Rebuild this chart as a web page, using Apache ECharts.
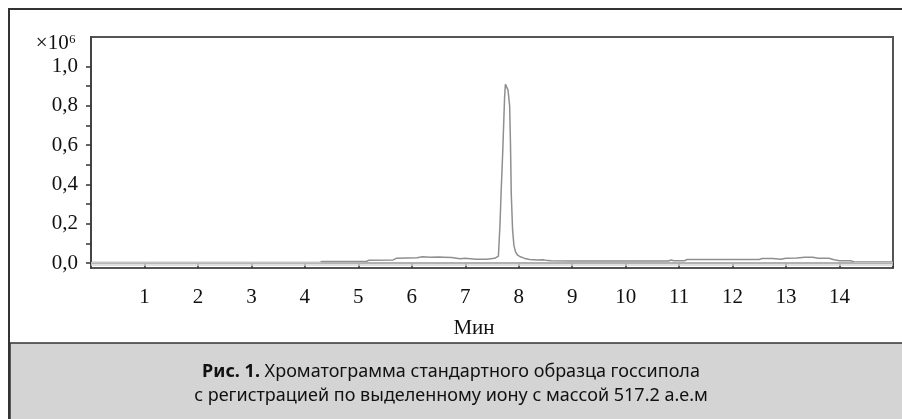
<!DOCTYPE html>
<html>
<head>
<meta charset="utf-8">
<script src="https://cdn.jsdelivr.net/npm/echarts@6/dist/echarts.min.js"></script>
<style>
html,body{margin:0;padding:0;background:#fff;}
#chart{width:902px;height:419px;}
</style>
</head>
<body>
<div id="chart"></div>
<script>
// Retention time (min)
const times = [0, 4.28, 4.32, 5.15, 5.2, 5.65, 5.72, 6.1, 6.2, 6.35, 6.5, 6.6, 6.75, 6.9, 7.0, 7.2, 7.4, 7.55, 7.62, 7.65, 7.67, 7.70, 7.735, 7.75, 7.77, 7.80, 7.83, 7.845, 7.86, 7.885, 7.91, 7.94, 7.98, 8.03, 8.1, 8.2, 8.35, 8.46, 8.5, 8.6, 9.0, 10.0, 10.8, 10.85, 10.9, 11.1, 11.15, 12.5, 12.55, 12.75, 12.9, 13.0, 13.2, 13.35, 13.5, 13.6, 13.8, 13.9, 14.0, 14.2, 14.3, 15.0];
// Intensity (x10^6)
const intensity = [0.003, 0.003, 0.008, 0.008, 0.015, 0.016, 0.025, 0.027, 0.032, 0.030, 0.031, 0.030, 0.028, 0.022, 0.024, 0.020, 0.020, 0.024, 0.035, 0.20, 0.355, 0.56, 0.84, 0.91, 0.915, 0.88, 0.80, 0.615, 0.355, 0.17, 0.09, 0.057, 0.040, 0.032, 0.025, 0.018, 0.016, 0.017, 0.015, 0.012, 0.011, 0.011, 0.011, 0.016, 0.012, 0.012, 0.018, 0.018, 0.023, 0.023, 0.020, 0.025, 0.026, 0.030, 0.030, 0.025, 0.025, 0.017, 0.012, 0.012, 0.005, 0.005];
const yTicks = [0, 0.1, 0.2, 0.3, 0.4, 0.5, 0.6, 0.7, 0.8, 0.9, 1.0];
const yLabels = [0, 0.2, 0.4, 0.6, 0.8, 1.0];
const xTicks = [1, 2, 3, 4, 5, 6, 7, 8, 9, 10, 11, 12, 13, 14, 15];
const xLabels = [1, 2, 3, 4, 5, 6, 7, 8, 9, 10, 11, 12, 13, 14];
const xName = 'Мин';
const yUnit = '×10⁶';
const captionBold = 'Рис. 1.';
const captionLine1 = ' Хроматограмма стандартного образца госсипола';
const captionLine2 = 'с регистрацией по выделенному иону с массой 517.2 а.е.м';

const chart = echarts.init(document.getElementById('chart'), null, {renderer: 'canvas'});
const serif = '"Liberation Serif", "Times New Roman", serif';
const sans = '"Noto Sans", "DejaVu Sans", sans-serif';

const option = {
  animation: false,
  backgroundColor: '#fff',
  grid: {left: 91, right: 9, top: 37, bottom: 151, show: true, borderColor: '#555', borderWidth: 2},
  xAxis: {
    type: 'value', min: 0, max: 15,
    name: xName, nameLocation: 'middle', nameGap: 50,
    nameTextStyle: {fontFamily: serif, fontSize: 21, color: '#111', padding: [0, 36, 0, 0]},
    axisLine: {show: true, lineStyle: {color: '#444', width: 2}},
    axisTick: {show: true, customValues: xTicks, length: 5, lineStyle: {color: '#333', width: 1.5}},
    axisLabel: {customValues: xLabels, margin: 19, fontFamily: serif, fontSize: 21, color: '#111'},
    splitLine: {show: false}
  },
  yAxis: {
    type: 'value', min: -0.025, max: 1.15,
    axisLine: {show: true, lineStyle: {color: '#444', width: 2}},
    axisTick: {show: true, customValues: yTicks, length: 5, lineStyle: {color: '#333', width: 1.5}},
    axisLabel: {customValues: yLabels, margin: 13, fontFamily: serif, fontSize: 21, color: '#111',
      formatter: v => v.toFixed(1).replace('.', ',')},
    splitLine: {show: false}
  },
  series: [{
    type: 'line',
    data: times.map((t, i) => [t, intensity[i]]),
    symbol: 'none',
    lineStyle: {color: '#8f8f8f', width: 1.5},
    markLine: {
      silent: true, symbol: 'none', label: {show: false},
      lineStyle: {type: 'solid', color: '#d6d6d6', width: 1.5},
      data: [{yAxis: -0.004}, {yAxis: -0.015}]
    },
    z: 3
  }],
  graphic: [
    {type: 'rect', z: -10, shape: {x: 9, y: 9, width: 900, height: 420}, style: {fill: 'none', stroke: '#333', lineWidth: 2}},
    {type: 'rect', z: 10, shape: {x: 10, y: 343, width: 900, height: 80}, style: {fill: '#d4d4d4', stroke: '#333', lineWidth: 1.5}},
    {type: 'text', z: 11, style: {text: yUnit, x: 76, y: 43, align: 'right', verticalAlign: 'middle', font: '21px ' + serif, fill: '#111'}},
    {type: 'text', z: 11, style: {
      text: '{b|' + captionBold + '}{r|' + captionLine1 + '}', x: 451, y: 372, align: 'center', verticalAlign: 'middle',
      rich: {b: {fontFamily: sans, fontWeight: 'bold', fontSize: 18, fill: '#111'}, r: {fontFamily: sans, fontSize: 18, fill: '#111'}}
    }},
    {type: 'text', z: 11, style: {text: captionLine2, x: 451, y: 396, align: 'center', verticalAlign: 'middle', font: '18px ' + sans, fill: '#111'}}
  ]
};
chart.setOption(option);
</script>
</body>
</html>
